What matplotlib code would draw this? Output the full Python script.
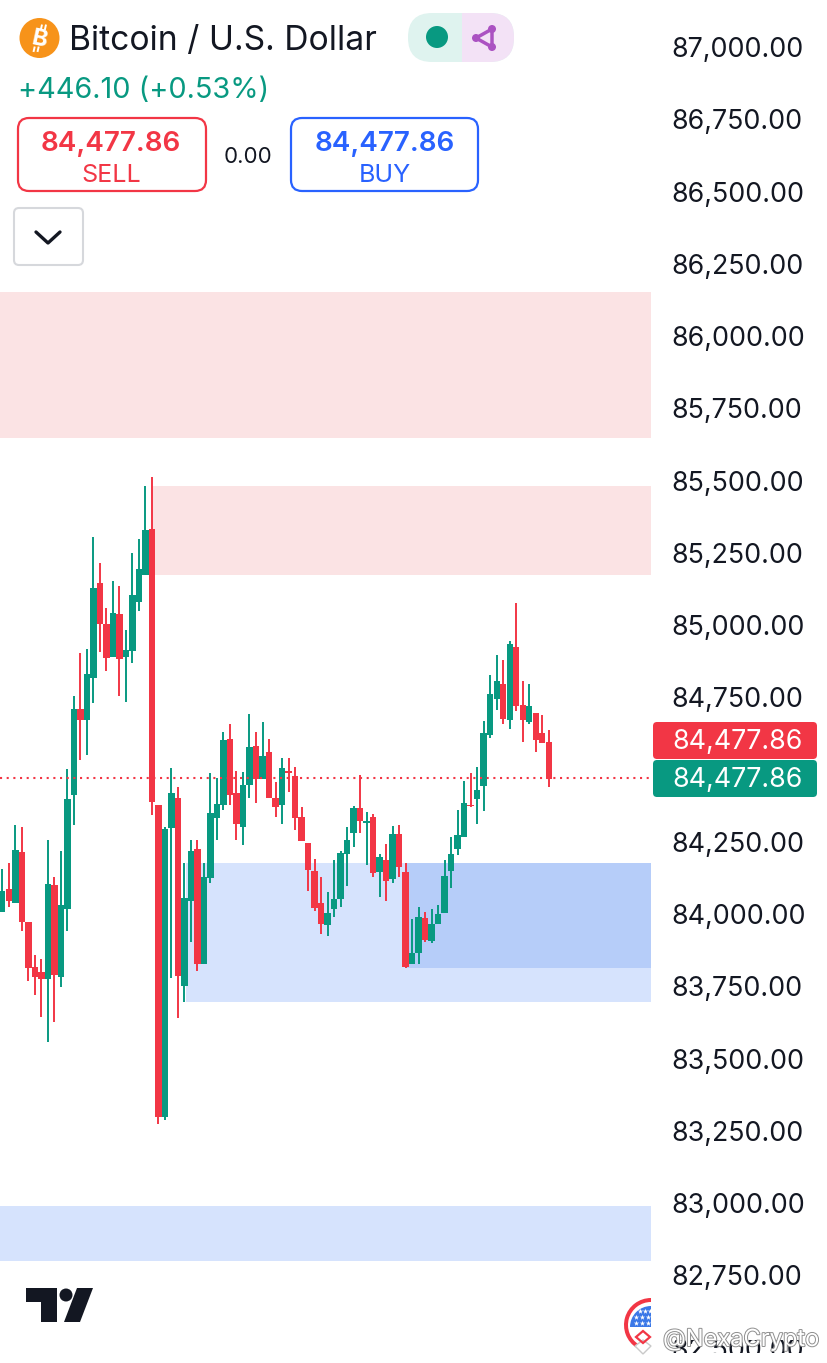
import matplotlib
matplotlib.use("Agg")
import matplotlib.pyplot as plt
import matplotlib.patheffects as pe
from matplotlib.patches import FancyBboxPatch, Rectangle, Circle, Polygon, Wedge

plt.rcParams['font.family'] = ['Inter', 'DejaVu Sans']

# candle data
opens = [84007, 84087, 84038, 84215, 83972, 83817, 83800, 83775, 84100, 83782, 84017, 84412, 84709, 84671, 84817, 85145, 85004,
         84889, 85038, 84889, 84910, 85080, 85173, 85332, 84377, 83298, 84298, 84401, 83751, 84045, 84225, 83827, 84125, 84332,
         84377, 84606, 84419, 84301, 84447, 84581, 84467, 84561, 84401, 84377, 84495, 84478, 84336, 84246, 84149, 84038, 83962,
         84017, 84052, 84208, 84280, 84367, 84315, 84336, 84145, 84187, 84121, 84277, 84145, 83827, 83865, 83986, 83907, 83966,
         84004, 84149, 84225, 84267, 84377, 84398, 84443, 84620, 84744, 84796, 84671, 84924, 84723, 84664, 84696, 84626, 84595]
highs = [84156, 84177, 84308, 84301, 83972, 83858, 83844, 84256, 84128, 84218, 84502, 84754, 84903, 84917, 85305, 85215, 85059,
         85152, 85135, 84983, 85249, 85298, 85481, 85512, 84377, 84301, 84505, 84440, 84177, 84256, 84256, 84177, 84488, 84471,
         84630, 84658, 84495, 84491, 84692, 84630, 84664, 84606, 84457, 84540, 84540, 84509, 84370, 84246, 84190, 84128, 84076,
         84187, 84218, 84301, 84374, 84481, 84353, 84346, 84208, 84242, 84305, 84308, 84177, 83983, 84024, 84007, 84017, 84031,
         84187, 84267, 84360, 84460, 84488, 84509, 84668, 84827, 84896, 84879, 84945, 85076, 84807, 84796, 84696, 84689, 84637]
lows = [84007, 84024, 84038, 83941, 83768, 83720, 83644, 83557, 83626, 83748, 83941, 84308, 84533, 84550, 84730, 84907, 84841,
        84889, 84754, 84734, 84869, 85049, 85173, 84343, 83274, 83287, 83779, 83640, 83696, 83903, 83803, 83827, 84108, 84256,
        84360, 84377, 84256, 84239, 84401, 84384, 84467, 84401, 84336, 84312, 84422, 84291, 84253, 84080, 84011, 83931, 83924,
        83990, 84024, 84097, 84232, 84280, 84170, 84128, 84059, 84045, 84108, 84128, 83813, 83827, 83827, 83903, 83900, 83966,
        84004, 84090, 84204, 84267, 84370, 84312, 84357, 84609, 84706, 84658, 84640, 84702, 84595, 84658, 84561, 84592, 84440]
closes = [84080, 84045, 84222, 83972, 83813, 83782, 83775, 84104, 83789, 84031, 84398, 84709, 84671, 84830, 85128, 85004, 84886,
          85042, 84882, 84914, 85104, 85194, 85329, 84388, 83298, 84294, 84419, 83786, 84056, 84218, 83827, 84128, 84350, 84381,
          84602, 84412, 84312, 84447, 84578, 84467, 84547, 84401, 84370, 84505, 84488, 84332, 84253, 84152, 84021, 83966, 84004,
          84052, 84211, 84256, 84367, 84322, 84322, 84142, 84197, 84114, 84277, 84163, 83817, 83865, 83990, 83910, 83966, 84000,
          84132, 84208, 84274, 84384, 84374, 84429, 84626, 84761, 84807, 84675, 84935, 84720, 84671, 84720, 84602, 84592, 84468]

price_ticks = [87000, 86750, 86500, 86250, 86000, 85750, 85500, 85250, 85000, 84750, 84500, 84250, 84000, 83750, 83500, 83250, 83000, 82750, 82500]
hidden_ticks = [84500]  # covered by the price tags

# zones: first bar, price bottom, price top, colour
zone_start = [-1, 23, 28.2, 62, -1]
zone_bottom = [85647, 85173, 83696, 83813, 82800]
zone_top = [86152, 85481, 84177, 84177, 82990]
zone_color = ['#fbe3e4', '#fbe3e4', '#d6e3fd', '#b6cdf9', '#d6e3fd']

last_level = 84470
GREEN = '#089981'
RED = '#f23645'
BLUE = '#2962ff'
DARK = '#131722'
PURPLE = '#ab52c2'

W, H = 828, 1363
fig = plt.figure(figsize=(W / 100, H / 100), dpi=100, facecolor='white')

# price chart, x is bar number
ax = fig.add_axes([0, 0, 651 / W, 1])
ax.set_xlim(-0.354, 99.72)
ax.set_ylim(82447, 87163)
for s in ax.spines.values():
    s.set_visible(False)
ax.set_xticks([])
ax.yaxis.tick_right()
ax.set_yticks(price_ticks)
ax.set_yticklabels(['' if p in hidden_ticks else f'{p:,.2f}' for p in price_ticks])
ax.tick_params(axis='y', length=0, pad=15, labelsize=19.3, labelcolor=DARK)

for x0, b, t, c in zip(zone_start, zone_bottom, zone_top, zone_color):
    ax.add_patch(Rectangle((x0, b), 120 - x0, t - b, fc=c, ec='none', zorder=1))

xs = list(range(len(opens)))
colors = [GREEN if c >= o else RED for o, c in zip(opens, closes)]
ax.vlines(xs, lows, highs, colors=colors, lw=1.4, zorder=3)
ax.bar(xs, [abs(c - o) for o, c in zip(opens, closes)], bottom=[min(o, c) for o, c in zip(opens, closes)],
       width=0.98, color=colors, zorder=4)
ax.axhline(last_level, color=RED, lw=1.5, ls=(0, (1, 2.2)), zorder=5)

# overlay in pixels for the app buttons, logo and tags
ui = fig.add_axes([0, 0, 1, 1])
ui.set_xlim(0, W)
ui.set_ylim(H, 0)
ui.axis('off')
ui.patch.set_alpha(0)


def box(x0, y0, x1, y1, r, fc='white', ec='none', lw=1.5, z=6):
    ui.add_patch(FancyBboxPatch((x0, y0), x1 - x0, y1 - y0, boxstyle=f'round,pad=0,rounding_size={r}',
                                fc=fc, ec=ec, lw=lw, zorder=z))


# header
ui.add_patch(Circle((39.5, 38), 20, fc='#f7931a', ec='none', zorder=6))
ui.text(39.5, 39.5, 'B', color='white', fontsize=17, fontweight='bold', ha='center', va='center', rotation=-12, zorder=7)
for tx in [41, 45]:
    ui.plot([tx, tx + 0.8], [29, 25.5], color='white', lw=1.4, zorder=7)
    ui.plot([tx - 6.5, tx - 7.3], [47.5, 51], color='white', lw=1.4, zorder=7)
ui.text(69, 41, 'Bitcoin / U.S. Dollar', color=DARK, fontsize=24.2, ha='left', va='center', zorder=7)

box(408, 13, 514, 62, 24, fc='#dff3ef')
box(440, 13, 514, 62, 24, fc='#f3e2f6')
ui.add_patch(Rectangle((440, 13), 22, 49, fc='#dff3ef', ec='none', zorder=6))
ui.add_patch(Circle((437, 37), 11, fc=GREEN, ec='none', zorder=7))
share = [(492, 29), (476, 38), (492, 47)]
ui.add_patch(Polygon(share, closed=True, fc='none', ec=PURPLE, lw=2.5, zorder=7))
for px, py in share:
    ui.add_patch(Circle((px, py), 4, fc=PURPLE, ec='none', zorder=8))

ui.text(18, 90.5, '+446.10 (+0.53%)', color=GREEN, fontsize=20.8, ha='left', va='center', zorder=7)

box(18, 118, 206, 191, 11, ec=RED, lw=1.6)
ui.text(111, 144, '84,477.86', color=RED, fontsize=20, fontweight='semibold', ha='center', va='center', zorder=7)
ui.text(111, 175.5, 'SELL', color=RED, fontsize=18, ha='center', va='center', zorder=7)
ui.text(248, 157, '0.00', color=DARK, fontsize=16, ha='center', va='center', zorder=7)
box(291, 118, 478, 191, 11, ec=BLUE, lw=1.6)
ui.text(384.5, 144, '84,477.86', color=BLUE, fontsize=20, fontweight='semibold', ha='center', va='center', zorder=7)
ui.text(384.5, 175.5, 'BUY', color=BLUE, fontsize=18, ha='center', va='center', zorder=7)

box(14, 208, 83, 265, 5, ec='#d6d8dc', lw=1.5)
ui.plot([36, 48, 60], [232, 243, 232], color=DARK, lw=2.4, solid_capstyle='round', solid_joinstyle='round', zorder=7)

# price tags
box(653, 722, 817, 759, 4, fc=RED)
ui.text(737.5, 742, '84,477.86', color='white', fontsize=19.3, ha='center', va='center', zorder=7)
box(653, 760, 817, 797, 4, fc=GREEN)
ui.text(737.5, 780, '84,477.86', color='white', fontsize=19.3, ha='center', va='center', zorder=7)

# TradingView logo
ui.add_patch(Polygon([(26, 1288), (57, 1288), (57, 1322), (41, 1322), (41, 1302), (26, 1302)], fc=DARK, ec='none', zorder=7))
ui.add_patch(Circle((66, 1295), 6.5, fc=DARK, ec='none', zorder=7))
ui.add_patch(Polygon([(77, 1288), (93, 1288), (80, 1322), (64, 1322)], fc=DARK, ec='none', zorder=7))

# corner: the bottom tick label is cut off and a watermark sits on it
# (y axis is flipped here, so 270 degrees points up on screen)
ui.add_patch(Rectangle((652, 1296), 176, 44, fc='white', ec='none', zorder=6))
ui.add_patch(Rectangle((652, 1353), 176, 10, fc='white', ec='none', zorder=6))
ui.add_patch(Wedge((651, 1325), 27, 122, 270, width=4, fc=RED, ec='none', zorder=7))
ui.add_patch(Wedge((651, 1327), 21, 180, 270, fc='#3b78e7', ec='none', zorder=7))
ui.scatter([640, 645, 650, 636, 642, 648, 636, 642, 648], [1311, 1311, 1311, 1317, 1317, 1317, 1323, 1323, 1323],
           marker='*', s=16, color='white', linewidths=0, zorder=8)
ui.add_patch(Polygon([(636, 1337), (643, 1331), (650, 1337), (643, 1343)], fc='none', ec=RED, lw=1.6, zorder=8))
ui.add_patch(Polygon([(635, 1346), (643, 1340), (651, 1346), (643, 1354)], fc='white', ec='#c9c9c9', lw=1, zorder=7))
ui.text(663, 1340, '@NexaCrypto', color='white', fontsize=17, ha='left', va='center', zorder=9,
        path_effects=[pe.withStroke(linewidth=1.4, foreground='#8f8f8f')])

fig.savefig('out.png', dpi=100)
